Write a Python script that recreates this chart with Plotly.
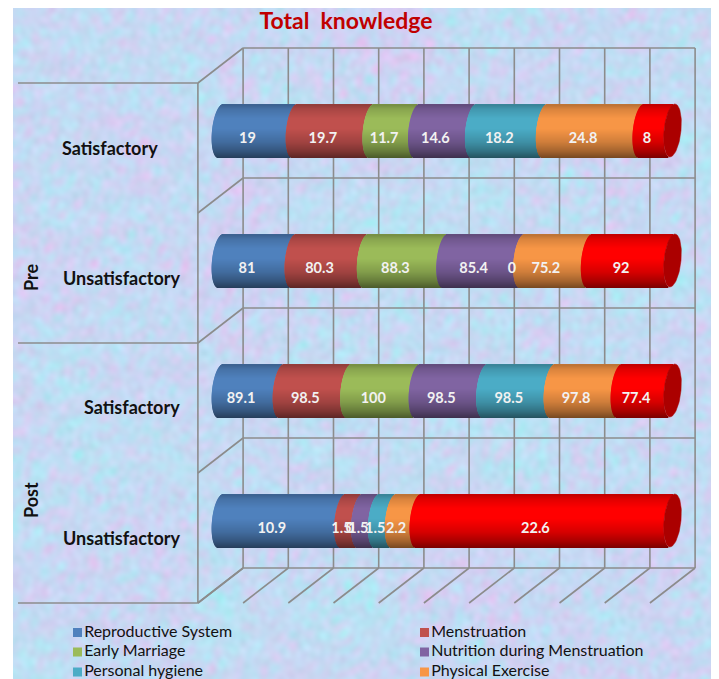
#!/usr/bin/env python

import base64
import struct
import zlib

import numpy as np
import plotly.graph_objects as go

# the browser page keeps an 8 px body margin, so the figure starts at (8, 8) in the picture
PAGE = 8
W, H = 719 - PAGE, 679 - PAGE

# ----------------------------
# Values
# ----------------------------
rows = ["Satisfactory", "Unsatisfactory", "Satisfactory", "Unsatisfactory"]
row_pos = [3, 2, 1, 0]
groups = ["Pre", "Post"]
series = ["Reproductive System", "Menstruation", "Early Marriage",
          "Nutrition during Menstruation", "Personal hygiene", "Physical Exercise", "Total"]
reproductive = [19, 81, 89.1, 10.9]
menstruation = [19.7, 80.3, 98.5, 1.5]
early_marriage = [11.7, 88.3, 100, 0]
nutrition = [14.6, 85.4, 98.5, 1.5]
hygiene = [18.2, 0, 98.5, 1.5]
exercise = [24.8, 75.2, 97.8, 2.2]
total = [8, 92, 77.4, 22.6]
colors = [(79, 129, 189), (192, 80, 77), (155, 187, 89), (128, 100, 162),
          (75, 172, 198), (247, 150, 70), (255, 0, 0)]

values = np.array([reproductive, menstruation, early_marriage, nutrition, hygiene, exercise, total], dtype=float)
shares = values / values.sum(axis=0) * 100
tops = np.cumsum(shares, axis=0)

# ----------------------------
# Axis scales: 0-100 % runs 220.5-672.5 px, row centres are 130 px apart
# ----------------------------
PX_PER_PCT = 4.52
PX_PER_ROW = 130.0
x_range = [(PAGE - 220.5) / PX_PER_PCT, (719 - 220.5) / PX_PER_PCT]
y_range = [(520.5 - 679) / PX_PER_ROW, (520.5 - PAGE) / PX_PER_ROW]


def to_x(px):
    return (px - 220.5) / PX_PER_PCT


def to_y(px):
    return (520.5 - px) / PX_PER_ROW


# cylinder look, all in axis units
HALF_H = 26.5 / PX_PER_ROW
CAP_A = 8.5 / PX_PER_PCT
CAP_SKEW = 2.5 / PX_PER_PCT
n_strip = 53
ts = (np.arange(n_strip) + 0.5) / n_strip * 2 - 1   # -1 bottom, +1 top
strip_h = 2 * HALF_H / n_strip * 1.05
shade = np.interp(ts, [-1, -0.75, -0.4, 0.1, 0.5, 0.85, 1], [0.48, 0.66, 0.84, 1.0, 1.0, 0.88, 0.76])


def edge(t):
    return CAP_SKEW * t - CAP_A * np.sqrt(1 - t ** 2)


def mottled_png():
    # soft blue/lilac paper texture made of overlaid waves
    w, h = 353, 336
    yy, xx = np.mgrid[0:h, 0:w]
    a = np.zeros((h, w))
    b = np.zeros((h, w))
    c = np.zeros((h, w))
    soft = np.zeros((h, w))
    for k in range(1, 81):
        ang = k * 2.399963
        f = 0.12 + 0.9 * ((k * 0.618034) % 1)
        a += np.sin((xx * np.cos(ang) + yy * np.sin(ang)) * f + k * k)
        b += np.sin((xx * np.sin(ang * 1.7) - yy * np.cos(ang * 1.7)) * f * 0.8 + k)
        c += np.sin((xx * np.cos(ang * 2.3) + yy * np.sin(ang * 2.3)) * f * 1.4 + 2 * k)
        soft += np.sin((xx * np.cos(ang * 3.1) + yy * np.sin(ang * 3.1)) * f * 0.12 + 3 * k)
    a, b, c, soft = a / a.std(), b / b.std(), c / c.std(), soft / soft.std()
    r = 198 + 6 * a - 3 * b + 2 * c + 4 * soft
    g = 218 - 4 * a + 2 * b + 2 * c - 3 * soft
    bl = 244 + 1 * b + 2 * c
    img = np.clip(np.dstack([r, g, bl]), 0, 255).astype(np.uint8)
    raw = b"".join(b"\x00" + img[i].tobytes() for i in range(h))

    def chunk(tag, data):
        return struct.pack(">I", len(data)) + tag + data + struct.pack(">I", zlib.crc32(tag + data))

    png = b"\x89PNG\r\n\x1a\n" + chunk(b"IHDR", struct.pack(">IIBBBBB", w, h, 8, 2, 0, 0, 0)) \
        + chunk(b"IDAT", zlib.compress(raw, 9)) + chunk(b"IEND", b"")
    return "data:image/png;base64," + base64.b64encode(png).decode()


fig = go.Figure()

# ----------------------------
# Cylinder segments: one bar per horizontal strip, so each shows a shaded, curved slice
# ----------------------------
for s, name in enumerate(series):
    ys, bases, lengths, strip_colors = [], [], [], []
    for r, pos in enumerate(row_pos):
        start = tops[s, r] - shares[s, r]
        for t, f in zip(ts, shade):
            ys.append(pos + t * HALF_H)
            bases.append(start + edge(t))
            lengths.append(shares[s, r])
            strip_colors.append("rgb(%d,%d,%d)" % tuple(int(c * f) for c in colors[s]))
    fig.add_trace(go.Bar(
        y=ys, x=lengths, base=bases, width=strip_h, orientation="h", name=name,
        marker=dict(color=strip_colors, line=dict(width=0)), showlegend=False, hoverinfo="skip",
    ))

# dark end caps on the right
theta = np.linspace(0, 2 * np.pi, 80)
for pos in row_pos:
    t = np.sin(theta)
    fig.add_trace(go.Scatter(
        x=100 + CAP_SKEW * t + CAP_A * np.cos(theta), y=pos + HALF_H * t,
        mode="lines", fill="toself", fillcolor="#ab0000", line=dict(color="#ab0000", width=0.5),
        showlegend=False, hoverinfo="skip",
    ))

# value labels sit a bit left of and under the segment middle
for s, name in enumerate(series):
    fig.add_trace(go.Scatter(
        x=tops[s] - shares[s] / 2 - 10 / PX_PER_PCT,
        y=[p - 8.5 / PX_PER_ROW for p in row_pos],
        mode="text", text=[f"{v:g}" for v in values[s]], textposition="middle center",
        textfont=dict(family="Lato", size=14.5, color="#f2f2f2", weight="bold"),
        showlegend=False, hoverinfo="skip",
    ))

# legend in two columns; the last series falls off the bottom of the picture in the original
legend_x = [77.5, 424.5]
legend_y = [632.5, 652, 672]
for s, name in enumerate(series[:-1]):
    fig.add_trace(go.Scatter(
        x=[to_x(legend_x[s % 2])], y=[to_y(legend_y[s // 2])], mode="markers+text", name=name,
        text=[name], textposition="middle right", cliponaxis=False,
        textfont=dict(family="Lato", size=16, color="#111111"),
        marker=dict(symbol="square", size=9, color="rgb(%d,%d,%d)" % colors[s]),
        showlegend=False, hoverinfo="skip",
    ))

# ----------------------------
# 3D walls drawn on the axes
# ----------------------------
GRID = "#8c8c8c"
depth_x = 5.0
depth_y = 17.5 / PX_PER_ROW
row_edges = [3.5, 2.5, 1.5, 0.5, -0.5]
x_ticks = list(range(0, 101, 10))
shapes = []


def add_line(x0, y0, x1, y1):
    shapes.append(dict(type="line", xref="x", yref="y", x0=x0, y0=y0, x1=x1, y1=y1,
                       line=dict(color=GRID, width=1.6), layer="below"))


for e in row_edges:
    add_line(depth_x, e + depth_y, 100 + depth_x, e + depth_y)
    add_line(-depth_x, e - depth_y, depth_x, e + depth_y)
for x in x_ticks:
    add_line(x + depth_x, row_edges[0] + depth_y, x + depth_x, row_edges[-1] + depth_y)
    add_line(x + depth_x, row_edges[-1] + depth_y, x - depth_x, row_edges[-1] - depth_y)
add_line(-depth_x, row_edges[0] - depth_y, -depth_x, row_edges[-1] - depth_y)
for e in [row_edges[0], row_edges[2], row_edges[4]]:
    add_line(to_x(18), e - depth_y, -depth_x, e - depth_y)

# ----------------------------
# Category labels
# ----------------------------
annotations = []
label_font = dict(family="Lato", size=18, color="#111111", weight="bold")
for name, cx, cy in zip(rows, [110, 122, 131.5, 122], [148, 278, 407, 538]):
    annotations.append(dict(text=name, x=to_x(cx), y=to_y(cy), showarrow=False, font=label_font))
for name, cy in zip(groups, [278, 500]):
    annotations.append(dict(text=name, x=to_x(31), y=to_y(cy), showarrow=False, textangle=-90, font=label_font))

fig.update_layout(
    width=W, height=H,
    margin=dict(l=0, r=0, t=0, b=0, autoexpand=False),
    paper_bgcolor="white", plot_bgcolor="rgba(0,0,0,0)",
    barmode="overlay",
    showlegend=False,
    title=dict(text="<b>Total  knowledge</b>", x=(346 - PAGE) / W, y=1 - (21 - PAGE) / H,
               xanchor="center", yanchor="middle",
               font=dict(family="Lato", size=23, color="#c00000")),
    xaxis=dict(range=x_range, visible=False, fixedrange=True),
    yaxis=dict(range=y_range, visible=False, fixedrange=True),
    images=[dict(source=mottled_png(), xref="paper", yref="paper", x=(13 - PAGE) / W, y=1,
                 sizex=(719 - 13) / W, sizey=1, xanchor="left", yanchor="top",
                 sizing="stretch", layer="below")],
    shapes=shapes,
    annotations=annotations,
)

fig.write_html("out.html")
